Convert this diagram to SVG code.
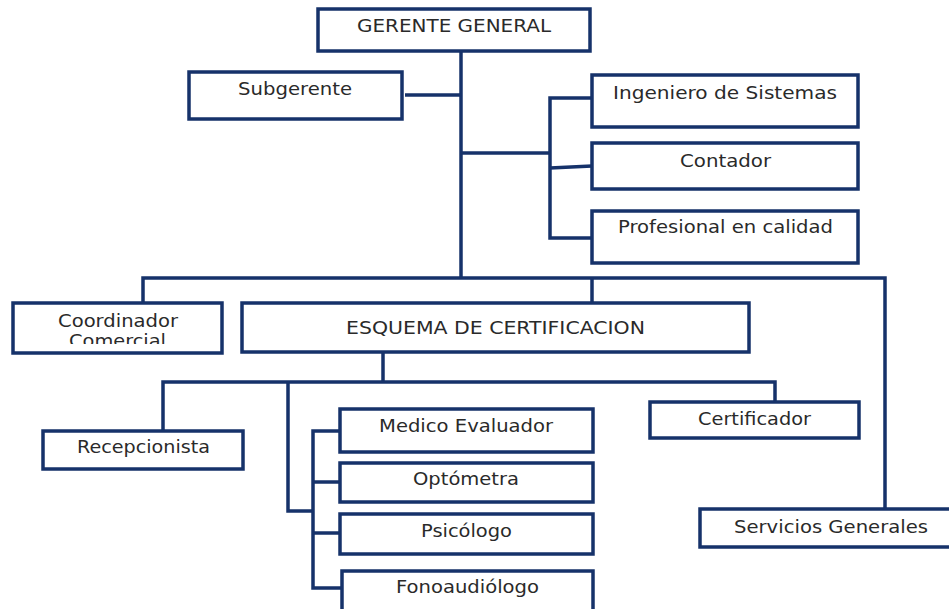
<svg xmlns="http://www.w3.org/2000/svg" width="949" height="609" viewBox="0 0 949 609">
<defs>
<style>
.box{fill:#fff;stroke:#16326a;stroke-width:3.5}
.ln{fill:none;stroke:#16326a;stroke-width:3.5;stroke-linejoin:miter}
.t{font-family:"DejaVu Sans",Verdana,sans-serif;font-size:17px;fill:#2a2a2a}
</style>
<clipPath id="ccClip"><rect x="12" y="303" width="210" height="41"/></clipPath>
</defs>
<rect width="949" height="609" fill="#fff"/>
<g id="connectors">
<polyline class="ln" points="461,51 461,278"/>
<polyline class="ln" points="405,95 461,95"/>
<polyline class="ln" points="461,153 550,153"/>
<polyline class="ln" points="592,98 550,98 550,238 592,238"/>
<polyline class="ln" points="550,168 592,166"/>
<polyline class="ln" points="143,303 143,278 885,278 885,509"/>
<polyline class="ln" points="592,278 592,303"/>
<polyline class="ln" points="383,353 383,382"/>
<polyline class="ln" points="163,431 163,382 775,382 775,402"/>
<polyline class="ln" points="288,382 288,511 313,511"/>
<polyline class="ln" points="340,431 313,431 313,588 342,588"/>
<polyline class="ln" points="313,482 340,482"/>
<polyline class="ln" points="313,533 340,533"/>
</g>
<g id="gerente"><rect class="box" x="318" y="9" width="272" height="42"/><text class="t" x="357" y="32" textLength="194" lengthAdjust="spacingAndGlyphs">GERENTE GENERAL</text></g>
<g id="subgerente"><rect class="box" x="189" y="72" width="213" height="47"/><text class="t" x="238" y="95" textLength="114" lengthAdjust="spacingAndGlyphs">Subgerente</text></g>
<g id="ingeniero"><rect class="box" x="592" y="75" width="266" height="52"/><text class="t" x="613" y="99" textLength="224" lengthAdjust="spacingAndGlyphs">Ingeniero de Sistemas</text></g>
<g id="contador"><rect class="box" x="592" y="143" width="266" height="46"/><text class="t" x="680" y="167" textLength="91" lengthAdjust="spacingAndGlyphs">Contador</text></g>
<g id="profesional"><rect class="box" x="592" y="211" width="266" height="52"/><text class="t" x="618" y="233" textLength="215" lengthAdjust="spacingAndGlyphs">Profesional en calidad</text></g>
<g id="coordinador"><rect class="box" x="13" y="303" width="209" height="50"/><text class="t" x="58" y="327" textLength="120" lengthAdjust="spacingAndGlyphs">Coordinador</text><text class="t" x="69" y="347" textLength="97" lengthAdjust="spacingAndGlyphs" clip-path="url(#ccClip)">Comercial</text></g>
<g id="esquema"><rect class="box" x="242" y="303" width="507" height="49"/><text class="t" x="346" y="334" textLength="299" lengthAdjust="spacingAndGlyphs">ESQUEMA DE CERTIFICACION</text></g>
<g id="recepcionista"><rect class="box" x="43" y="431" width="200" height="38"/><text class="t" x="77" y="453" textLength="133" lengthAdjust="spacingAndGlyphs">Recepcionista</text></g>
<g id="medico"><rect class="box" x="340" y="409" width="253" height="43"/><text class="t" x="379" y="432" textLength="174" lengthAdjust="spacingAndGlyphs">Medico Evaluador</text></g>
<g id="optometra"><rect class="box" x="340" y="463" width="253" height="39"/><text class="t" x="413" y="485" textLength="106" lengthAdjust="spacingAndGlyphs">Optómetra</text></g>
<g id="psicologo"><rect class="box" x="340" y="514" width="253" height="40"/><text class="t" x="421" y="537" textLength="91" lengthAdjust="spacingAndGlyphs">Psicólogo</text></g>
<g id="fonoaudiologo"><rect class="box" x="342" y="571" width="251" height="44"/><text class="t" x="396" y="593" textLength="143" lengthAdjust="spacingAndGlyphs">Fonoaudiólogo</text></g>
<g id="certificador"><rect class="box" x="650" y="402" width="209" height="36"/><text class="t" x="698" y="425" textLength="113" lengthAdjust="spacingAndGlyphs">Certificador</text></g>
<g id="servicios"><rect class="box" x="700" y="509" width="255" height="38"/><text class="t" x="734" y="533" textLength="194" lengthAdjust="spacingAndGlyphs">Servicios Generales</text></g>
</svg>
